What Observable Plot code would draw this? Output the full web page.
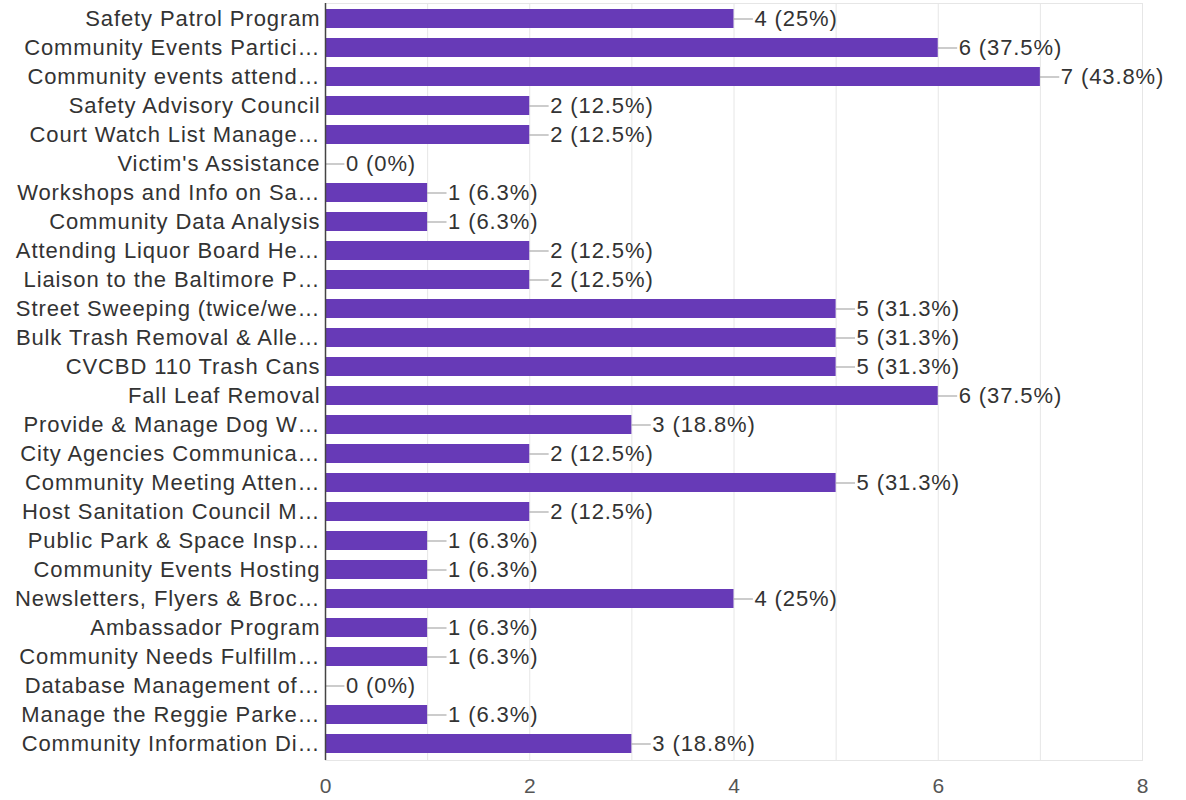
<!DOCTYPE html>
<html><head><meta charset="utf-8">
<script src="https://cdn.jsdelivr.net/npm/d3@7"></script>
<script src="https://cdn.jsdelivr.net/npm/@observablehq/plot@0.6"></script>
<style>body{margin:0;background:#fff;font-family:Arial,"Liberation Sans",sans-serif}
svg text{letter-spacing:0.9px}
svg g[aria-label="x-axis tick label"] text{letter-spacing:0}</style>
</head><body><div id="chart"></div>
<script>
const categories = ["Safety Patrol Program","Community Events Partici…","Community events attend…","Safety Advisory Council","Court Watch List Manage…","Victim's Assistance","Workshops and Info on Sa…","Community Data Analysis","Attending Liquor Board He…","Liaison to the Baltimore P…","Street Sweeping (twice/we…","Bulk Trash Removal & Alle…","CVCBD 110 Trash Cans","Fall Leaf Removal","Provide & Manage Dog W…","City Agencies Communica…","Community Meeting Atten…","Host Sanitation Council M…","Public Park & Space Insp…","Community Events Hosting","Newsletters, Flyers & Broc…","Ambassador Program","Community Needs Fulfillm…","Database Management of…","Manage the Reggie Parke…","Community Information Di…"];
const counts = [4,6,7,2,2,0,1,1,2,2,5,5,5,6,3,2,5,2,1,1,4,1,1,0,1,3];
const percents = ["25%","37.5%","43.8%","12.5%","12.5%","0%","6.3%","6.3%","12.5%","12.5%","31.3%","31.3%","31.3%","37.5%","18.8%","12.5%","31.3%","12.5%","6.3%","6.3%","25%","6.3%","6.3%","0%","6.3%","18.8%"];
const xTicks = [0,2,4,6,8];
const gridValues = [1,2,3,4,5,6,7,8];

const data = categories.map((c,i)=>({cat:c, v:counts[i], label:`${counts[i]} (${percents[i]})`}));
const connector = 0.19;

const chart = Plot.plot({
  width: 1186, height: 800,
  marginLeft: 325, marginRight: 44, marginTop: 3, marginBottom: 40,
  style: {fontFamily: "Arial, 'Liberation Sans', sans-serif", fontSize: "22px", color: "#333", background: "#fff"},
  x: {domain: [0,8], label: null},
  y: {domain: categories, label: null, paddingInner: 0.33, paddingOuter: 0.165},
  marks: [
    Plot.frame({stroke: "#e6e6e6"}),
    Plot.ruleX(gridValues, {stroke: "#e6e6e6"}),
    Plot.barX(data, {x: "v", y: "cat", fill: "#673ab7"}),
    Plot.ruleY(data, {y: "cat", x1: "v", x2: d=>d.v+connector, stroke: "#999", strokeWidth: 1}),
    Plot.text(data, {y: "cat", x: d=>d.v+connector, text: "label", textAnchor: "start", dx: 1, fill: "#333", fontSize: 22}),
    Plot.ruleX([0], {stroke: "#444", strokeWidth: 1.5}),
    Plot.axisX({ticks: xTicks, tickSize: 0, tickPadding: 18, fill: "#555", fontSize: 21, label: null, tickFormat: d=>d}),
    Plot.axisY({tickSize: 0, tickPadding: 5, fill: "#333", fontSize: 22, label: null})
  ]
});
document.getElementById("chart").append(chart);
</script></body></html>
